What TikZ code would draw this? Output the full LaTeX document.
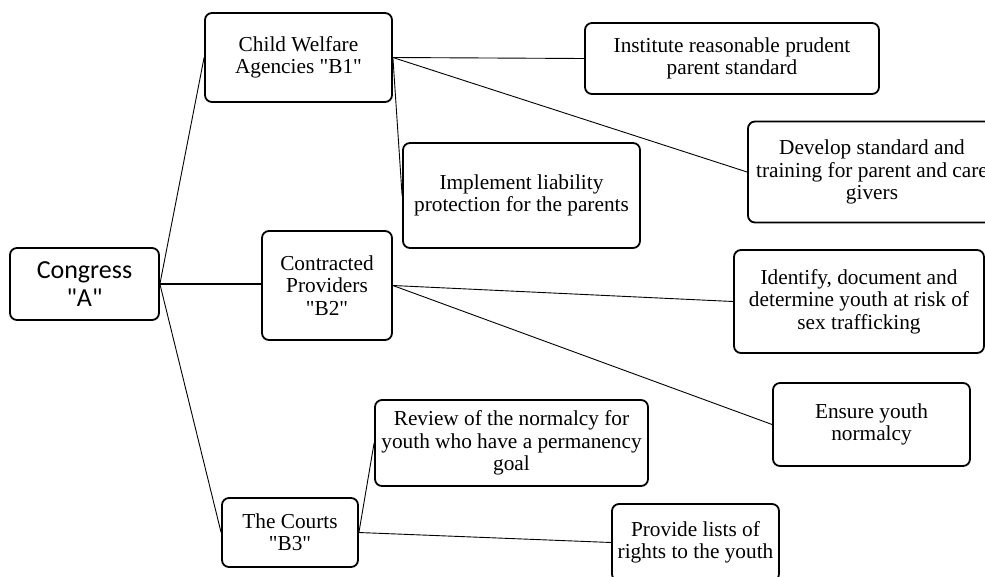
\documentclass[tikz,border=0pt]{standalone}
\usepackage{fontspec}
\setmainfont{Liberation Serif}[Ligatures=TeXOff]
\newfontfamily\calibrifont{Carlito}
\begin{document}
\begin{tikzpicture}[x=1pt,y=-1pt,
  box/.style={draw, line width=1.8pt, rounded corners=7pt, align=center, inner sep=0pt,
              font=\fontsize{21.3}{22.3}\selectfont},
  link/.style={line width=0.9pt},
  thicklink/.style={line width=2.2pt}]
\useasboundingbox (0,0) rectangle (985,576);
\clip (0,0) rectangle (985,576);
% level A
\node[box, minimum width=149pt, minimum height=72pt, font=\calibrifont\fontsize{26}{28.5}\selectfont] (A) at (84.5,284) {Congress\\"A"};
% level B
\node[box, minimum width=187pt, minimum height=89pt] (B1) at (298.5,57.5) {Child Welfare\\Agencies "B1"};
\node[box, minimum width=130pt, minimum height=109pt] (B2) at (327,285.5) {Contracted\\Providers\\"B2"};
\node[box, minimum width=136pt, minimum height=69pt] (B3) at (290,532.5) {The Courts\\"B3"};
% children of B1
\node[box, minimum width=294pt, minimum height=71pt] (C1) at (732,58.5) {Institute reasonable prudent\\parent standard};
\node[box, minimum width=248pt, minimum height=101pt] (C2) at (872,172) {Develop standard and\\training for parent and care\\givers};
\node[box, minimum width=237pt, minimum height=105pt] (C3) at (521.5,195.5) {Implement liability\\protection for the parents};
% children of B2
\node[box, minimum width=250pt, minimum height=103pt] (D1) at (859,301.5) {Identify, document and\\determine youth at risk of\\sex trafficking};
\node[box, minimum width=197pt, minimum height=83pt] (D2) at (871.5,424.5) {Ensure youth\\normalcy};
% children of B3
\node[box, minimum width=273pt, minimum height=86pt] (E1) at (511.5,443) {Review of the normalcy for\\youth who have a permanency\\goal};
\node[box, minimum width=167pt, minimum height=77pt] (E2) at (695.5,542.5) {Provide lists of\\rights to the youth};
% connectors
\draw[link] (A.east) -- (B1.west);
\draw[thicklink] (A.east) -- (A.east -| B2.west);
\draw[link] (A.east) -- (B3.west);
\draw[link] (B1.east) -- (C1.west);
\draw[link] (B1.east) -- (C2.west);
\draw[link] (B1.east) -- (C3.west);
\draw[link] (B2.east) -- (D1.west);
\draw[link] (B2.east) -- (D2.west);
\draw[link] (B3.east) -- (E1.west);
\draw[link] (B3.east) -- (E2.west);
\end{tikzpicture}
\end{document}
